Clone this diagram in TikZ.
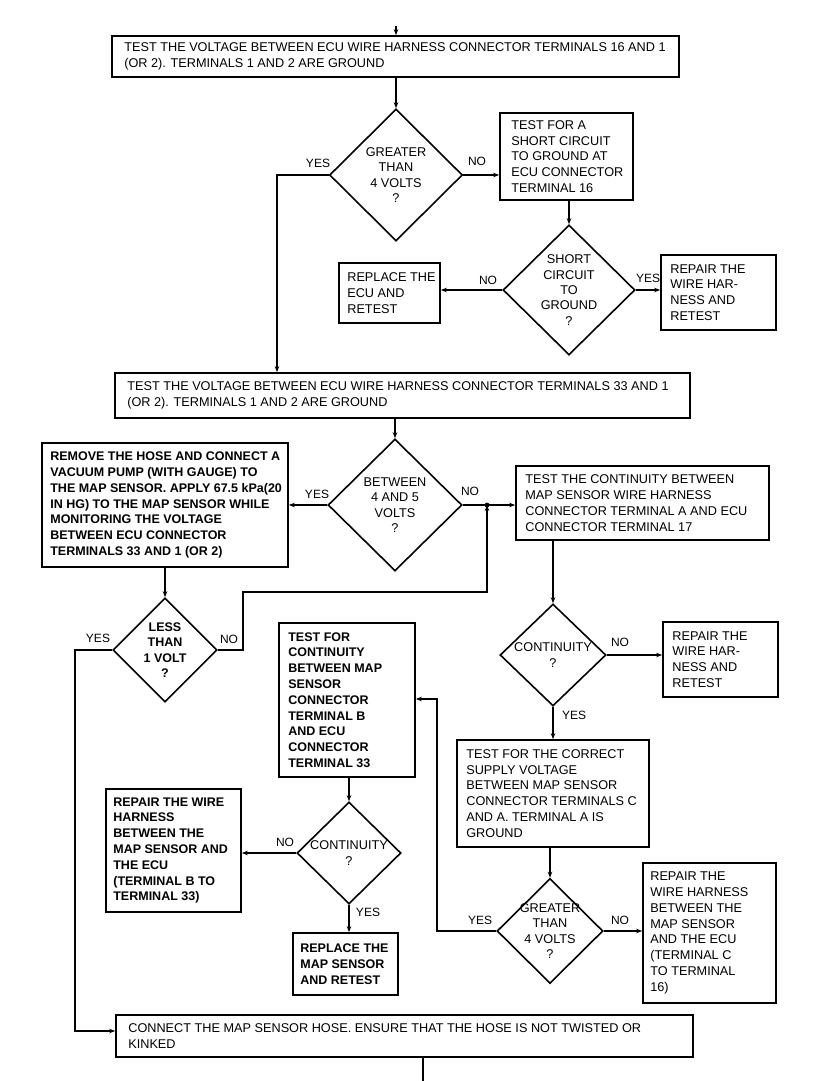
\documentclass[tikz,border=0pt]{standalone}
\usepackage{fontspec}
\setmainfont{Liberation Sans}
\usetikzlibrary{arrows.meta,shapes.geometric}
\begin{document}
\begin{tikzpicture}[x=1pt,y=-1pt,
  box/.style={draw,line width=1.7pt,rectangle,inner sep=0pt},
  dia/.style={draw,line width=1.6pt,diamond,inner sep=0pt,aspect=1},
  txt/.style={anchor=west,align=left,inner sep=0pt,font=\fontsize{12.7}{15.8}\selectfont},
  btxt/.style={anchor=west,align=left,inner sep=0pt,font=\fontsize{12.5}{15.8}\selectfont\bfseries},
  dtxt/.style={align=center,inner sep=0pt,font=\fontsize{12.7}{15.3}\selectfont},
  bdtxt/.style={align=center,inner sep=0pt,font=\fontsize{12.5}{15.3}\selectfont\bfseries},
  lbl/.style={inner sep=0pt,font=\fontsize{12}{13}\selectfont},
  arr/.style={line width=1.3pt,-{Stealth[length=6pt,width=4.5pt]}},
  con/.style={line width=1.3pt},
]
\useasboundingbox (0,0) rectangle (819,1081);
\fill[white] (0,0) rectangle (819,1081);

% ---------- boxes ----------
\node[box,minimum width=567pt,minimum height=41pt] (T1) at (395.5,56.5) {};
\node[txt] (T1t) at ([xshift=13pt]T1.west) {TEST THE VOLTAGE BETWEEN ECU WIRE HARNESS CONNECTOR TERMINALS 16 AND 1\\(OR 2). TERMINALS 1 AND 2 ARE GROUND};

\node[box,minimum width=133pt,minimum height=87pt] (B1) at (566.5,156.5) {};
\node[txt] (B1t) at ([xshift=12pt]B1.west) {TEST FOR A\\SHORT CIRCUIT\\TO GROUND AT\\ECU CONNECTOR\\TERMINAL 16};

\node[box,minimum width=101pt,minimum height=60pt] (R1) at (389.5,293) {};
\node[txt] (R1t) at ([xshift=9pt]R1.west) {REPLACE THE\\ECU AND\\RETEST};

\node[box,minimum width=115pt,minimum height=75pt] (R2) at (718.5,292.5) {};
\node[txt] (R2t) at ([xshift=10pt]R2.west) {REPAIR THE\\WIRE HAR-\\NESS AND\\RETEST};

\node[box,minimum width=575pt,minimum height=45pt] (T2) at (402.5,395.5) {};
\node[txt] (T2t) at ([xshift=13pt]T2.west) {TEST THE VOLTAGE BETWEEN ECU WIRE HARNESS CONNECTOR TERMINALS 33 AND 1\\(OR 2). TERMINALS 1 AND 2 ARE GROUND};

\node[box,minimum width=246pt,minimum height=124pt] (R3) at (165,505) {};
\node[btxt] (R3t) at ([xshift=9pt]R3.west) {REMOVE THE HOSE AND CONNECT A\\VACUUM PUMP (WITH GAUGE) TO\\THE MAP SENSOR. APPLY 67.5 kPa(20\\IN HG) TO THE MAP SENSOR WHILE\\MONITORING THE VOLTAGE\\BETWEEN ECU CONNECTOR\\TERMINALS 33 AND 1 (OR 2)};

\node[box,minimum width=253pt,minimum height=74pt] (C1) at (642.5,503) {};
\node[txt] (C1t) at ([xshift=10pt]C1.west) {TEST THE CONTINUITY BETWEEN\\MAP SENSOR WIRE HARNESS\\CONNECTOR TERMINAL A AND ECU\\CONNECTOR TERMINAL 17};

\node[box,minimum width=136pt,minimum height=154pt] (B2) at (347,700) {};
\node[btxt] (B2t) at ([xshift=10pt]B2.west) {TEST FOR\\CONTINUITY\\BETWEEN MAP\\SENSOR\\CONNECTOR\\TERMINAL B\\AND ECU\\CONNECTOR\\TERMINAL 33};

\node[box,minimum width=115pt,minimum height=75pt] (R4) at (720.5,659.5) {};
\node[txt] (R4t) at ([xshift=10pt]R4.west) {REPAIR THE\\WIRE HAR-\\NESS AND\\RETEST};

\node[box,minimum width=192pt,minimum height=107pt] (C2) at (553,793.5) {};
\node[txt] (C2t) at ([xshift=10pt]C2.west) {TEST FOR THE CORRECT\\SUPPLY VOLTAGE\\BETWEEN MAP SENSOR\\CONNECTOR TERMINALS C\\AND A. TERMINAL A IS\\GROUND};

\node[box,minimum width=135pt,minimum height=123pt] (R6) at (173.5,850.5) {};
\node[btxt] (R6t) at ([xshift=8pt]R6.west) {REPAIR THE WIRE\\HARNESS\\BETWEEN THE\\MAP SENSOR AND\\THE ECU\\(TERMINAL B TO\\TERMINAL 33)};

\node[box,minimum width=133pt,minimum height=140pt] (R5) at (709.5,933) {};
\node[txt] (R5t) at ([xshift=8pt]R5.west) {REPAIR THE\\WIRE HARNESS\\BETWEEN THE\\MAP SENSOR\\AND THE ECU\\(TERMINAL C\\TO TERMINAL\\16)};

\node[box,minimum width=105pt,minimum height=62pt] (R7) at (345.5,964) {};
\node[btxt] (R7t) at ([xshift=8pt]R7.west) {REPLACE THE\\MAP SENSOR\\AND RETEST};

\node[box,minimum width=577pt,minimum height=42pt] (F) at (404.5,1036) {};
\node[txt] (Ft) at ([xshift=13pt]F.west) {CONNECT THE MAP SENSOR HOSE. ENSURE THAT THE HOSE IS NOT TWISTED OR\\KINKED};

% ---------- diamonds ----------
\node[dia,minimum width=133pt,minimum height=132pt] (D1) at (396,175) {};
\node[dtxt] (D1t) at (D1) {GREATER\\THAN\\4 VOLTS\\?};
\node[dia,minimum width=132pt,minimum height=130pt] (D2) at (569,290) {};
\node[dtxt] (D2t) at (D2) {SHORT\\CIRCUIT\\TO\\GROUND\\?};
\node[dia,minimum width=134pt,minimum height=132pt] (D3) at (395,505) {};
\node[dtxt] (D3t) at (D3) {BETWEEN\\4 AND 5\\VOLTS\\?};
\node[dia,minimum width=104pt,minimum height=104pt] (D4) at (165,650) {};
\node[bdtxt] (D4t) at (D4) {LESS\\THAN\\1 VOLT\\?};
\node[dia,minimum width=106pt,minimum height=102pt] (D5) at (553,655) {};
\node[dtxt] (D5t) at (D5) {CONTINUITY\\?};
\node[dia,minimum width=106pt,minimum height=105pt] (D6) at (550,931) {};
\node[dtxt] (D6t) at (D6) {GREATER\\THAN\\4 VOLTS\\?};
\node[dia,minimum width=104pt,minimum height=102pt] (D7) at (349,853) {};
\node[dtxt] (D7t) at (D7) {CONTINUITY\\?};

% ---------- helper coordinates ----------
\coordinate (in) at (396,26);
\coordinate (y1) at (277,175);
\coordinate (J) at (487,505);
\coordinate (n4a) at (243,650);
\coordinate (n4b) at (243,592);
\coordinate (y4a) at (75,650);
\coordinate (y4b) at (75,1031);
\coordinate (y6a) at (437,931);
\coordinate (y6b) at (437,699);
\coordinate (out) at (423,1081);

% ---------- connectors ----------
\draw[arr] (in) -- (in |- T1.north);
\draw[arr] (T1.south -| D1.north) -- (D1.north);
\draw[arr] (D1.west) -- (y1) -- (y1 |- T2.north);
\draw[arr] (D1.east) -- (D1.east -| B1.west);
\draw[arr] (B1.south -| D2.north) -- (D2.north);
\draw[arr] (D2.west) -- (D2.west -| R1.east);
\draw[arr] (D2.east) -- (D2.east -| R2.west);
\draw[arr] (T2.south -| D3.north) -- (D3.north);
\draw[arr] (D3.west) -- (D3.west -| R3.east);
\draw[con] (D3.east) -- (J);
\draw[arr] (J) -- (J -| C1.west);
\draw[arr] (D4.east) -- (n4a) -- (n4b) -- (n4b -| J) -- (J);
\fill (J) circle (2.4pt);
\draw[arr] (R3.south -| D4.north) -- (D4.north);
\draw[arr] (D4.west) -- (y4a) -- (y4b) -- (y4b -| F.west);
\draw[arr] (C1.south -| D5.north) -- (D5.north);
\draw[arr] (D5.east) -- (D5.east -| R4.west);
\draw[arr] (D5.south) -- (D5.south |- C2.north);
\draw[arr] (C2.south -| D6.north) -- (D6.north);
\draw[arr] (D6.east) -- (D6.east -| R5.west);
\draw[arr] (D6.west) -- (y6a) -- (y6b) -- (y6b -| B2.east);
\draw[arr] (B2.south -| D7.north) -- (D7.north);
\draw[arr] (D7.west) -- (D7.west -| R6.east);
\draw[arr] (D7.south) -- (D7.south |- R7.north);
\draw[con] (F.south -| out) -- (out);

% ---------- labels ----------
\node[lbl] (l1) at (318,163) {YES};
\node[lbl] (l2) at (477,161) {NO};
\node[lbl] (l3) at (488,280) {NO};
\node[lbl] (l4) at (648,278) {YES};
\node[lbl] (l5) at (317,494) {YES};
\node[lbl] (l6) at (470,491) {NO};
\node[lbl] (l7) at (98,638) {YES};
\node[lbl] (l8) at (229,639) {NO};
\node[lbl] (l9) at (620,642) {NO};
\node[lbl] (l10) at (574,715) {YES};
\node[lbl] (l11) at (480,920) {YES};
\node[lbl] (l12) at (620,920) {NO};
\node[lbl] (l13) at (285,842) {NO};
\node[lbl] (l14) at (368,912) {YES};
\end{tikzpicture}
\end{document}
